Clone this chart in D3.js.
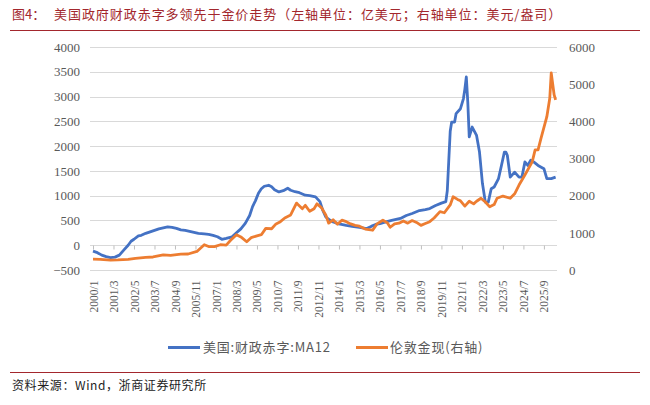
<!DOCTYPE html>
<html><head><meta charset="utf-8">
<script src="https://cdn.jsdelivr.net/npm/d3@7"></script>
<style>
body{margin:0;background:#fff;}
svg{display:block;}
</style></head>
<body>
<svg id="c" width="650" height="405"></svg>
<script>
const titleLabel = "图4：";
const titleText = "美国政府财政赤字多领先于金价走势（左轴单位：亿美元；右轴单位：美元/盎司）";
const sourceText = "资料来源：Wind，浙商证券研究所";
const seriesNames = ["美国:财政赤字:MA12", "伦敦金现(右轴)"];
const xTickLabels = ["2000/1","2001/3","2002/5","2003/7","2004/9","2005/11","2007/1","2008/3","2009/5","2010/7","2011/9","2012/11","2014/1","2015/3","2016/5","2017/7","2018/9","2019/11","2021/1","2022/3","2023/5","2024/7","2025/9"];
const leftTicks = [-500,0,500,1000,1500,2000,2500,3000,3500,4000];
const rightTicks = [0,1000,2000,3000,4000,5000,6000];

const deficitDates = ["2000/1","2000/4","2000/7","2000/10","2001/1","2001/4","2001/7","2001/10","2002/1","2002/3","2002/5","2002/8","2002/10","2003/1","2003/4","2003/7","2003/10","2004/1","2004/4","2004/7","2004/10","2005/1","2005/4","2005/7","2005/10","2006/1","2006/5","2006/8","2006/11","2007/2","2007/5","2007/8","2007/12","2008/3","2008/6","2008/9","2008/12","2009/2","2009/4","2009/6","2009/8","2009/10","2010/1","2010/3","2010/5","2010/8","2010/11","2011/2","2011/4","2011/7","2011/10","2012/2","2012/5","2012/9","2012/12","2013/2","2013/4","2013/7","2013/9","2014/1","2014/6","2014/10","2015/3","2015/8","2015/11","2016/2","2016/5","2016/9","2017/1","2017/7","2017/11","2018/3","2018/8","2018/12","2019/3","2019/7","2019/11","2020/2","2020/3","2020/4","2020/5","2020/6","2020/8","2020/9","2020/12","2021/2","2021/3","2021/4","2021/5","2021/6","2021/8","2021/11","2022/1","2022/3","2022/5","2022/7","2022/9","2022/11","2023/2","2023/4","2023/6","2023/7","2023/8","2023/10","2024/1","2024/4","2024/6","2024/8","2024/10","2024/12","2025/2","2025/5","2025/9","2025/11","2026/2","2026/5"];
const deficitValues = [-120,-150,-200,-230,-250,-240,-200,-100,0,80,120,190,200,240,270,300,330,350,370,360,340,310,300,280,260,240,230,220,200,170,120,140,170,250,330,440,600,780,900,1050,1140,1190,1210,1180,1120,1075,1100,1150,1110,1080,1060,1010,1000,975,880,700,570,500,470,430,400,380,360,335,380,420,435,470,500,540,600,640,700,720,740,800,850,880,1100,1700,2300,2485,2485,2655,2755,2955,3150,3395,2890,2185,2385,2215,1880,1250,870,870,1140,1175,1345,1610,1880,1880,1815,1375,1475,1375,1375,1680,1610,1715,1680,1610,1545,1345,1345,1375];

const goldDates = ["2000/1","2000/6","2001/1","2001/6","2002/1","2002/6","2003/1","2003/6","2004/1","2004/6","2005/1","2005/6","2005/12","2006/5","2006/8","2006/12","2007/4","2007/8","2007/11","2008/3","2008/6","2008/10","2009/1","2009/5","2009/8","2009/11","2010/3","2010/6","2010/9","2010/12","2011/4","2011/8","2011/9","2011/12","2012/2","2012/5","2012/8","2012/10","2013/1","2013/4","2013/6","2013/9","2013/12","2014/3","2014/6","2014/9","2014/12","2015/3","2015/7","2015/12","2016/3","2016/7","2016/10","2016/12","2017/3","2017/6","2017/9","2017/12","2018/3","2018/6","2018/9","2018/12","2019/3","2019/6","2019/10","2020/1","2020/5","2020/7","2020/10","2020/12","2021/3","2021/6","2021/9","2021/11","2022/2","2022/5","2022/8","2022/11","2023/1","2023/5","2023/10","2024/1","2024/4","2024/8","2025/1","2025/3","2025/5","2025/7","2025/11","2026/1","2026/2","2026/4","2026/5"];
const goldValues = [290,285,265,270,285,315,340,350,405,395,425,430,500,680,630,630,680,670,800,950,890,760,870,920,950,1120,1110,1240,1300,1400,1480,1800,1760,1650,1740,1580,1650,1780,1680,1480,1260,1350,1230,1340,1300,1240,1200,1180,1100,1070,1240,1340,1270,1150,1240,1260,1320,1260,1330,1280,1200,1250,1300,1400,1570,1540,1750,1970,1900,1860,1720,1850,1780,1850,1930,1830,1700,1760,1930,1990,1930,2050,2285,2555,2910,3230,3230,3540,4125,4620,5300,4710,4575];

const svg = d3.select("#c");
const red = "#a3272d";
const monthIdx = s => { const [y,m] = s.split("/").map(Number); return (y-2000)*12 + (m-1); };

const plotL = 90, plotR = 557;
const x = d3.scaleLinear().domain([0, 316]).range([93, 93 + 1.464*316]);
const yL = d3.scaleLinear().domain([-500, 4000]).range([270, 47]);
const yR = d3.scaleLinear().domain([0, 6000]).range([270, 47]);

// title
svg.append("text").attr("x", 12).attr("y", 19).text(titleLabel)
  .attr("fill", red).style("font-family", "'Noto Sans CJK SC'").style("font-size", "13px");
svg.append("text").attr("x", 54).attr("y", 19).text(titleText)
  .attr("fill", red).style("font-family", "'Noto Sans CJK SC'").style("font-size", "13px")
  .style("letter-spacing", "0.95px");
svg.append("line").attr("x1", 10).attr("x2", 640).attr("y1", 30.5).attr("y2", 30.5)
  .attr("stroke", red).attr("stroke-width", 1.2);

// gridlines
svg.append("g").selectAll("line").data(leftTicks).join("line")
  .attr("x1", plotL).attr("x2", plotR)
  .attr("y1", d => Math.round(yL(d)) + 0.5).attr("y2", d => Math.round(yL(d)) + 0.5)
  .attr("stroke", "#d9d9d9").attr("stroke-width", 1);

// left axis
const gl = svg.append("g").attr("transform", "translate(84,0)")
  .call(d3.axisLeft(yL).tickValues(leftTicks).tickSize(0).tickPadding(4).tickFormat(d3.format("d")));
gl.select(".domain").remove();
gl.selectAll("text").attr("fill", "#595959").style("font-family", "'Liberation Serif'").style("font-size", "13px");

// right axis
const gr = svg.append("g").attr("transform", "translate(565,0)")
  .call(d3.axisRight(yR).tickValues(rightTicks).tickSize(0).tickPadding(4).tickFormat(d3.format("d")));
gr.select(".domain").remove();
gr.selectAll("text").attr("fill", "#595959").style("font-family", "'Liberation Serif'").style("font-size", "13px");

// x axis with ticks at the zero line
const xTickVals = xTickLabels.map(monthIdx);
const gx = svg.append("g").attr("transform", `translate(0,${Math.round(yL(0)) + 0.5})`)
  .call(d3.axisBottom(x).tickValues(xTickVals).tickSize(4).tickFormat((d,i) => xTickLabels[i]));
gx.select(".domain").remove();
gx.selectAll(".tick line").attr("stroke", "#bfbfbf");
gx.selectAll("text")
  .attr("x", 0).attr("y", 0).attr("dy", "0.35em")
  .attr("transform", "translate(0,35) rotate(-90)")
  .style("text-anchor", "end")
  .attr("fill", "#595959").style("font-family", "'Liberation Serif'").style("font-size", "11.5px");

// lines
const deficit = deficitDates.map((d,i) => ({m: monthIdx(d), v: deficitValues[i]}));
const gold = goldDates.map((d,i) => ({m: monthIdx(d), v: goldValues[i]}));

svg.append("path").datum(deficit)
  .attr("d", d3.line().x(d => x(d.m)).y(d => yL(d.v)))
  .attr("fill", "none").attr("stroke", "#4472c4").attr("stroke-width", 2.8).attr("stroke-linejoin", "round");
svg.append("path").datum(gold)
  .attr("d", d3.line().x(d => x(d.m)).y(d => yR(d.v)))
  .attr("fill", "none").attr("stroke", "#ed7d31").attr("stroke-width", 2.8).attr("stroke-linejoin", "round");

// legend
const legend = [
  {name: seriesNames[0], color: "#4472c4", x1: 168, x2: 200, tx: 203},
  {name: seriesNames[1], color: "#ed7d31", x1: 356, x2: 388, tx: 390}
];
const lg = svg.append("g");
legend.forEach(l => {
  lg.append("line").attr("x1", l.x1).attr("x2", l.x2).attr("y1", 347.5).attr("y2", 347.5)
    .attr("stroke", l.color).attr("stroke-width", 3);
  lg.append("text").attr("x", l.tx).attr("y", 352).text(l.name)
    .attr("fill", "#595959").style("font-family", "'Noto Sans CJK SC'").style("font-size", "13px")
    .style("letter-spacing", "0.8px");
});

// bottom rule & source
svg.append("line").attr("x1", 10).attr("x2", 640).attr("y1", 372.5).attr("y2", 372.5)
  .attr("stroke", red).attr("stroke-width", 1);
svg.append("text").attr("x", 12).attr("y", 390).text(sourceText)
  .attr("fill", "#222").style("font-family", "'Noto Sans CJK SC'").style("font-size", "12px")
  .style("letter-spacing", "0.6px");
</script>
</body></html>
